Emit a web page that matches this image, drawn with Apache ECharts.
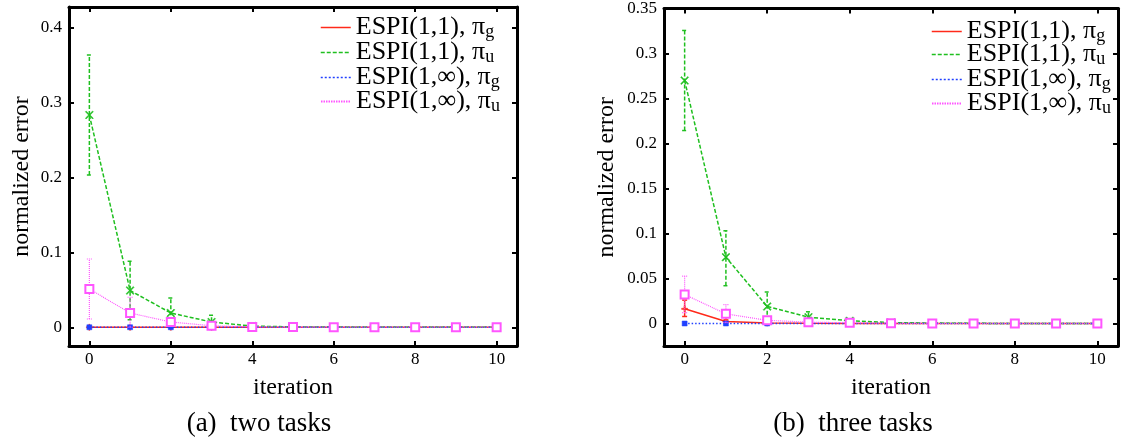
<!DOCTYPE html>
<html><head><meta charset="utf-8">
<script src="https://cdn.jsdelivr.net/npm/echarts@6/dist/echarts.min.js"></script>
<style>html,body{margin:0;padding:0;background:#fff}#c{width:1144px;height:442px}</style>
</head><body><div id="c"></div><script>
// ---------- data ----------
const iterations = [0, 1, 2, 3, 4, 5, 6, 7, 8, 9, 10];
const seriesNames = ['ESPI(1,1), πg', 'ESPI(1,1), πu', 'ESPI(1,∞), πg', 'ESPI(1,∞), πu'];
const xTicks = [0, 2, 4, 6, 8, 10];
const yTicksTwo = [0, 0.1, 0.2, 0.3, 0.4];
const yTicksThree = [0, 0.05, 0.1, 0.15, 0.2, 0.25, 0.3, 0.35];
const captions = ['(a)  two tasks', '(b)  three tasks'];

// (a) two tasks
const twoG11    = [0, 0, 0, 0, 0, 0, 0, 0, 0, 0, 0];
const twoU11    = [0.283, 0.049, 0.019, 0.007, 0.0015, 0.0005, 0.0002, 0, 0, 0, 0];
const twoU11Lo  = [0.203, 0.010, 0.000, 0.000, 0.000, 0, 0, 0, 0, 0, 0];
const twoU11Hi  = [0.363, 0.088, 0.039, 0.016, 0.003, 0.001, 0, 0, 0, 0, 0];
const twoGInf   = [0, 0, 0, 0, 0, 0, 0, 0, 0, 0, 0];
const twoUInf   = [0.051, 0.019, 0.007, 0.002, 0.0005, 0.0002, 0, 0, 0, 0, 0];
const twoUInfLo = [0.011, 0.000, 0.002, 0.000, 0, 0, 0, 0, 0, 0, 0];
const twoUInfHi = [0.091, 0.040, 0.012, 0.004, 0.001, 0, 0, 0, 0, 0, 0];

// (b) three tasks
const thrG11    = [0.0163, 0.0022, 0.0005, 0.0002, 0.0001, 0, 0, 0, 0, 0, 0];
const thrG11Lo  = [0.0078, 0.0010, 0, 0, 0, 0, 0, 0, 0, 0, 0];
const thrG11Hi  = [0.026, 0.004, 0.001, 0, 0, 0, 0, 0, 0, 0, 0];
const thrU11    = [0.270, 0.0737, 0.0189, 0.007, 0.003, 0.001, 0.0005, 0.0002, 0, 0, 0];
const thrU11Lo  = [0.2144, 0.042, 0.003, 0.001, 0.001, 0, 0, 0, 0, 0, 0];
const thrU11Hi  = [0.3256, 0.103, 0.035, 0.013, 0.005, 0.002, 0, 0, 0, 0, 0];
const thrGInf   = [0, 0, 0, 0, 0, 0, 0, 0, 0, 0, 0];
const thrUInf   = [0.0322, 0.0107, 0.0035, 0.0015, 0.0008, 0.0003, 0, 0, 0, 0, 0];
const thrUInfLo = [0.012, 0.001, 0.001, 0, 0, 0, 0, 0, 0, 0, 0];
const thrUInfHi = [0.0526, 0.021, 0.006, 0.003, 0.0015, 0, 0, 0, 0, 0, 0];

// ---------- styles ----------
const FONT = 'Liberation Serif';
const COLORS = ['#ff2a1a', '#1fbf1f', '#2040ff', '#ff55ff'];
const DASH = ['solid', [4, 2], [1.5, 2], [1, 1]];
const LW = [1.5, 1.5, 1.5, 1.2];
const LEGEND_DASH = ['solid', [4, 2], [2, 2], [1.5, 1]];
const LEGEND_LW = [1.5, 1.5, 1.5, 2];
const SYMBOLS = [
  'path://M4,0H6V4H10V6H6V10H4V6H0V4H4Z',
  'path://M0,1L1,0L5,4L9,0L10,1L6,5L10,9L9,10L5,6L1,10L0,9L4,5Z',
  'rect',
  'emptyRect'
];
const SYMSIZE = [6, 8, 5, 8];

function pairs(ys) { return iterations.map((x, i) => [x, ys[i]]); }
function errData(lo, hi) { return iterations.map((x, i) => [x, lo[i], hi[i]]).filter(d => d[2] > d[1]); }

function errRender(k) {
  return function (params, api) {
    const x = api.value(0), lo = api.value(1), hi = api.value(2);
    const a = api.coord([x, lo]), b = api.coord([x, hi]);
    const cap = 2.5;
    const dash = DASH[k] === 'solid' ? null : DASH[k];
    const st = () => ({ stroke: COLORS[k], lineWidth: LW[k], lineDash: dash, fill: null });
    return { type: 'group', children: [
      { type: 'line', shape: { x1: a[0], y1: a[1], x2: b[0], y2: b[1] }, style: st() },
      { type: 'line', shape: { x1: a[0] - cap, y1: a[1], x2: a[0] + cap, y2: a[1] }, style: st() },
      { type: 'line', shape: { x1: b[0] - cap, y1: b[1], x2: b[0] + cap, y2: b[1] }, style: st() }
    ]};
  };
}

function lineSeries(k, ys, gi) {
  return {
    type: 'line', name: seriesNames[k], xAxisIndex: gi * 2, yAxisIndex: gi * 2,
    data: pairs(ys), symbol: SYMBOLS[k], symbolSize: SYMSIZE[k], showAllSymbol: true,
    lineStyle: { color: COLORS[k], type: DASH[k], width: LW[k] },
    itemStyle: { color: COLORS[k], borderColor: COLORS[k], borderWidth: k === 3 ? 1.5 : 0.5 },
    emphasis: { disabled: true }, animation: false, z: 3 + k
  };
}
function errSeries(k, lo, hi, gi) {
  return {
    type: 'custom', xAxisIndex: gi * 2, yAxisIndex: gi * 2,
    data: errData(lo, hi), encode: { x: 0, y: [1, 2] },
    renderItem: errRender(k), silent: true, animation: false, z: 3 + k
  };
}

const grids = [
  { left: 69, top: 7, width: 448, height: 339 },
  { left: 664, top: 7, width: 454, height: 339 }
];

const axisLineStyle = { show: true, onZero: false, lineStyle: { color: '#000', width: 3 } };
const tickStyle = (vals) => ({ show: true, inside: true, length: 5, customValues: vals, lineStyle: { color: '#000', width: 2 } });

function xAxes(gi) {
  return [
    { type: 'value', gridIndex: gi, position: 'bottom', min: -0.5, max: 10.5,
      axisLine: axisLineStyle, axisTick: tickStyle(xTicks), splitLine: { show: false },
      axisLabel: { customValues: xTicks, margin: 5, fontFamily: FONT, fontSize: 17, color: '#000' },
      name: 'iteration', nameLocation: 'middle', nameGap: 30,
      nameTextStyle: { fontFamily: FONT, fontSize: 24, color: '#000' } },
    { type: 'value', gridIndex: gi, position: 'top', min: -0.5, max: 10.5,
      axisLine: axisLineStyle, axisTick: tickStyle(xTicks), splitLine: { show: false },
      axisLabel: { show: false } }
  ];
}
function yAxes(gi, max, ticks, gap) {
  return [
    { type: 'value', gridIndex: gi, position: 'left', min: -0.025, max: max,
      axisLine: axisLineStyle, axisTick: tickStyle(ticks), splitLine: { show: false },
      axisLabel: { customValues: ticks, margin: 7, fontFamily: FONT, fontSize: 17, color: '#000',
        formatter: v => String(+(+v).toFixed(2)) },
      name: 'normalized error', nameLocation: 'middle', nameRotate: 90, nameGap: gap,
      nameTextStyle: { fontFamily: FONT, fontSize: 24, color: '#000' } },
    { type: 'value', gridIndex: gi, position: 'right', min: -0.025, max: max,
      axisLine: axisLineStyle, axisTick: tickStyle(ticks), splitLine: { show: false },
      axisLabel: { show: false } }
  ];
}

// one legend component per entry, so each row sits at a fixed height
function legendItem(k, left, centerY) {
  return {
    data: [{ name: seriesNames[k],
      lineStyle: { color: COLORS[k], type: LEGEND_DASH[k], width: LEGEND_LW[k], opacity: 1 },
      itemStyle: { opacity: 0 } }],
    orient: 'vertical', left: left, top: centerY - 12.5, padding: 0,
    itemWidth: 30, itemHeight: 12, itemGap: 0, selectedMode: false,
    itemStyle: { opacity: 0 },
    formatter: n => n.slice(0, -1) + '{s|' + n.slice(-1) + '}',
    textStyle: { fontFamily: FONT, fontSize: 26, color: '#000', lineHeight: 25,
      rich: { s: { fontFamily: FONT, fontSize: 18, color: '#000', lineHeight: 25, padding: [10, 0, 0, 0] } } }
  };
}
const legendRowsA = [26, 51, 76, 100];
const legendRowsB = [30, 53, 78, 102];
const legends = [0, 1, 2, 3].map(k => legendItem(k, 320, legendRowsA[k]))
  .concat([0, 1, 2, 3].map(k => legendItem(k, 931, legendRowsB[k])));

const series = [
  lineSeries(0, twoG11, 0),
  errSeries(1, twoU11Lo, twoU11Hi, 0), lineSeries(1, twoU11, 0),
  lineSeries(2, twoGInf, 0),
  errSeries(3, twoUInfLo, twoUInfHi, 0), lineSeries(3, twoUInf, 0),
  errSeries(0, thrG11Lo, thrG11Hi, 1), lineSeries(0, thrG11, 1),
  errSeries(1, thrU11Lo, thrU11Hi, 1), lineSeries(1, thrU11, 1),
  lineSeries(2, thrGInf, 1),
  errSeries(3, thrUInfLo, thrUInfHi, 1), lineSeries(3, thrUInf, 1)
];

const chart = echarts.init(document.getElementById('c'), null, { renderer: 'canvas' });
chart.setOption({
  animation: false,
  backgroundColor: '#fff',
  textStyle: { fontFamily: FONT },
  grid: grids,
  xAxis: xAxes(0).concat(xAxes(1)),
  yAxis: yAxes(0, 0.427, yTicksTwo, 35).concat(yAxes(1, 0.35, yTicksThree, 45)),
  legend: legends,
  series: series,
  graphic: [
    { type: 'text', style: { text: captions[0], x: 259, y: 424, align: 'center', verticalAlign: 'middle', font: '27px "' + FONT + '"', fill: '#000' } },
    { type: 'text', style: { text: captions[1], x: 853, y: 424, align: 'center', verticalAlign: 'middle', font: '27px "' + FONT + '"', fill: '#000' } }
  ]
});
</script></body></html>
